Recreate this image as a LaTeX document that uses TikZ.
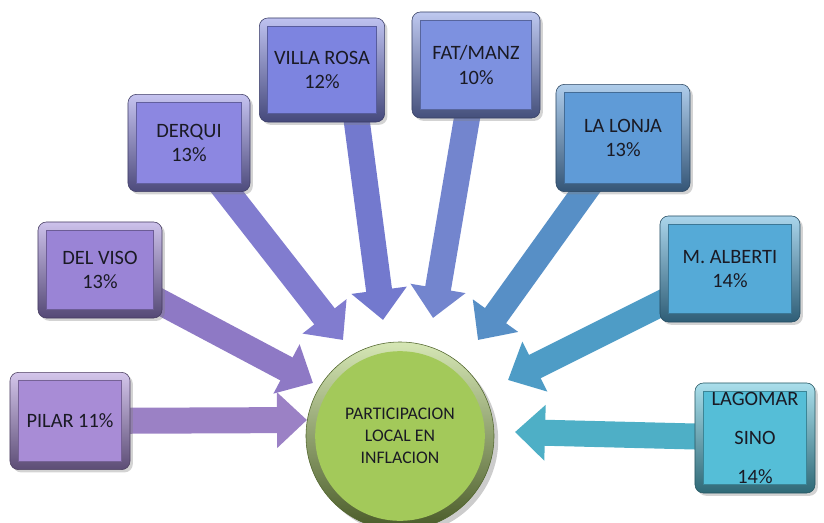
\documentclass[tikz,border=0pt]{standalone}
\usepackage{fontspec}
\setmainfont{Carlito}
\usetikzlibrary{arrows.meta}
\usetikzlibrary{shadows}
\usetikzlibrary{backgrounds}
\definecolor{ink}{HTML}{1A1A24}
\definecolor{Cpilar}{HTML}{A88CD6}
\definecolor{Cviso}{HTML}{9A84D6}
\definecolor{Cderqui}{HTML}{8C87E1}
\definecolor{Cvilla}{HTML}{7D84E0}
\definecolor{Cfat}{HTML}{7D91E0}
\definecolor{Clonja}{HTML}{5F9BD7}
\definecolor{Calberti}{HTML}{55AAD7}
\definecolor{Clago}{HTML}{55BED7}
\definecolor{Chub}{HTML}{A3C95A}
\tikzset{
  tile/.style={rectangle, rounded corners=6pt, draw=#1!45!black, line width=.4pt,
    top color=#1!50!white, bottom color=#1!55!black,
    drop shadow={opacity=.35, shadow xshift=2pt, shadow yshift=-2pt},
    text=ink, align=center, font=\fontsize{14.5}{17.7}\selectfont,
    path picture={
      \fill[#1, sharp corners] ([shift={(6pt,-6pt)}]path picture bounding box.north west)
        rectangle ([shift={(-6pt,6pt)}]path picture bounding box.south east);
      \draw[#1!70!black, sharp corners, line width=.5pt] ([shift={(6pt,-6pt)}]path picture bounding box.north west)
        rectangle ([shift={(-6pt,6pt)}]path picture bounding box.south east);}},
  feed/.style={draw=#1!92!black, line width=0.65cm, -{Triangle[length=0.75cm,width=1.35cm]}},
  hub/.style={circle, minimum size=4.7cm, inner sep=0pt, draw=Chub!50!black, line width=.4pt,
    top color=Chub!45!white, bottom color=Chub!45!black,
    drop shadow={opacity=.4, shadow xshift=3pt, shadow yshift=-3pt},
    text=ink, align=center, font=\fontsize{12.6}{15.6}\selectfont,
    path picture={\fill[Chub] (path picture bounding box.center) circle (2.12cm);}}
}
\begin{document}
\begin{tikzpicture}[x=0.025cm,y=-0.025cm]
\useasboundingbox (0,0) rectangle (824,522);
% boxes
\node[tile=Cpilar, minimum width=3cm, minimum height=2.43cm] (pilar) at (70,421) {PILAR 11\%};
\node[tile=Cviso, minimum width=3.1cm, minimum height=2.4cm] (viso) at (100,270) {DEL VISO\\13\%};
\node[tile=Cderqui, minimum width=3.05cm, minimum height=2.43cm] (derqui) at (189,143) {DERQUI\\13\%};
\node[tile=Cvilla, minimum width=3.13cm, minimum height=2.6cm] (villa) at (322,70) {VILLA ROSA\\12\%};
\node[tile=Cfat, minimum width=3.2cm, minimum height=2.65cm] (fat) at (476,65) {FAT/MANZ\\10\%};
\node[tile=Clonja, minimum width=3.35cm, minimum height=2.68cm] (lonja) at (623,138) {LA LONJA\\13\%};
\node[tile=Calberti, minimum width=3.5cm, minimum height=2.65cm] (alberti) at (730,269) {M. ALBERTI\\14\%};
\node[tile=Clago, minimum width=3cm, minimum height=2.75cm, font=\fontsize{14.5}{27.7}\selectfont] (lago) at (755,438) {LAGOMAR\\SINO\\14\%};
% centre
\node[hub] (hub) at (400,436) {PARTICIPACION\\LOCAL EN\\INFLACION};
% arrow tips
\coordinate (tpilar) at (307,420);
\coordinate (tviso) at (313,383);
\coordinate (tderqui) at (343,340);
\coordinate (tvilla) at (383,320);
\coordinate (tfat) at (433,318);
\coordinate (tlonja) at (478,340);
\coordinate (talberti) at (508,380);
\coordinate (tlago) at (515,432);
\begin{scope}[on background layer]
\draw[feed=Cpilar] (pilar.center) -- (tpilar);
\draw[feed=Cviso] (viso.center) -- (tviso);
\draw[feed=Cderqui] (derqui.center) -- (tderqui);
\draw[feed=Cvilla] ([xshift=0.7cm]villa.center) -- (tvilla);
\draw[feed=Cfat] (fat.center) -- (tfat);
\draw[feed=Clonja] (lonja.center) -- (tlonja);
\draw[feed=Calberti] (alberti.center) -- (talberti);
\draw[feed=Clago] (lago.center) -- (tlago);
\end{scope}
\end{tikzpicture}
\end{document}
